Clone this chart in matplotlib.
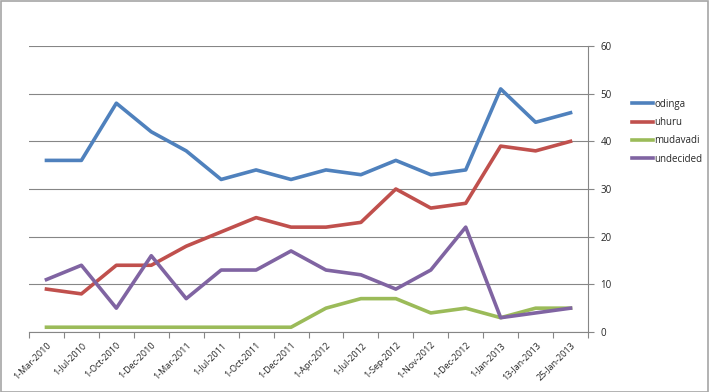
import matplotlib.pyplot as plt
from matplotlib.patches import Rectangle
from matplotlib.ticker import FixedLocator

# Datos de la encuesta.
fechas = ['1-Mar-2010', '1-Jul-2010', '1-Oct-2010', '1-Dec-2010', '1-Mar-2011',
          '1-Jul-2011', '1-Oct-2011', '1-Dec-2011', '1-Apr-2012', '1-Jul-2012',
          '1-Sep-2012', '1-Nov-2012', '1-Dec-2012', '1-Jan-2013', '13-Jan-2013',
          '25-Jan-2013']
odinga = [36, 36, 48, 42, 38, 32, 34, 32, 34, 33, 36, 33, 34, 51, 44, 46]
uhuru = [9, 8, 14, 14, 18, 21, 24, 22, 22, 23, 30, 26, 27, 39, 38, 40]
mudavadi = [1, 1, 1, 1, 1, 1, 1, 1, 5, 7, 7, 4, 5, 3, 5, 5]
undecided = [11, 14, 5, 16, 7, 13, 13, 17, 13, 12, 9, 13, 22, 3, 4, 5]

series = [('odinga', odinga, '#4F81BD'),
          ('uhuru', uhuru, '#C0504D'),
          ('mudavadi', mudavadi, '#9BBB59'),
          ('undecided', undecided, '#8064A2')]

plt.rcParams['font.family'] = ['Open Sans', 'DejaVu Sans']

fig = plt.figure(figsize=(7.09, 3.92), dpi=100)
ax = fig.add_axes([29/709, 60/392, (588-29)/709, (332-46)/392])

x = list(range(len(fechas)))
for nombre, valores, color in series:
    ax.plot(x, valores, color=color, lw=2.6, label=nombre, solid_joinstyle='round')

gris = '#868686'
ax.set_xlim(-0.5, len(fechas) - 0.5)
ax.set_ylim(0, 60)
ax.set_yticks(range(0, 61, 10))
ax.yaxis.tick_right()
ax.grid(axis='y', color=gris, lw=0.8)
ax.set_axisbelow(True)

ax.set_xticks(x)
ax.set_xticklabels(fechas, rotation=45, ha='right', va='top',
                   rotation_mode='anchor', fontsize=6.5, color='#262626')
ax.xaxis.set_minor_locator(FixedLocator([i - 0.5 for i in range(len(fechas) + 1)]))
ax.tick_params(axis='x', which='major', length=0, pad=6)
ax.tick_params(axis='x', which='minor', length=4, color=gris, width=0.8)
ax.tick_params(axis='y', length=4, color=gris, width=0.8, labelsize=7,
               labelcolor='#262626', pad=5)

for lado in ['top', 'left']:
    ax.spines[lado].set_visible(False)
ax.spines['right'].set_color(gris)
ax.spines['bottom'].set_color(gris)
ax.spines['right'].set_linewidth(0.8)
ax.spines['bottom'].set_linewidth(0.8)

fig.legend(loc='upper left', bbox_to_anchor=(623/709, 1 - 90/392), frameon=False,
           fontsize=7, handlelength=2.2, handletextpad=0.1, labelspacing=0.75,
           labelcolor='#262626')

# Borde gris del gráfico.
fig.patches.append(Rectangle((0.5/709, 0.5/392), 1 - 1.5/709, 1 - 1.5/392,
                             transform=fig.transFigure, fill=False,
                             edgecolor='#A6A6A6', lw=1.2))

fig.savefig('out.png', dpi=100)
